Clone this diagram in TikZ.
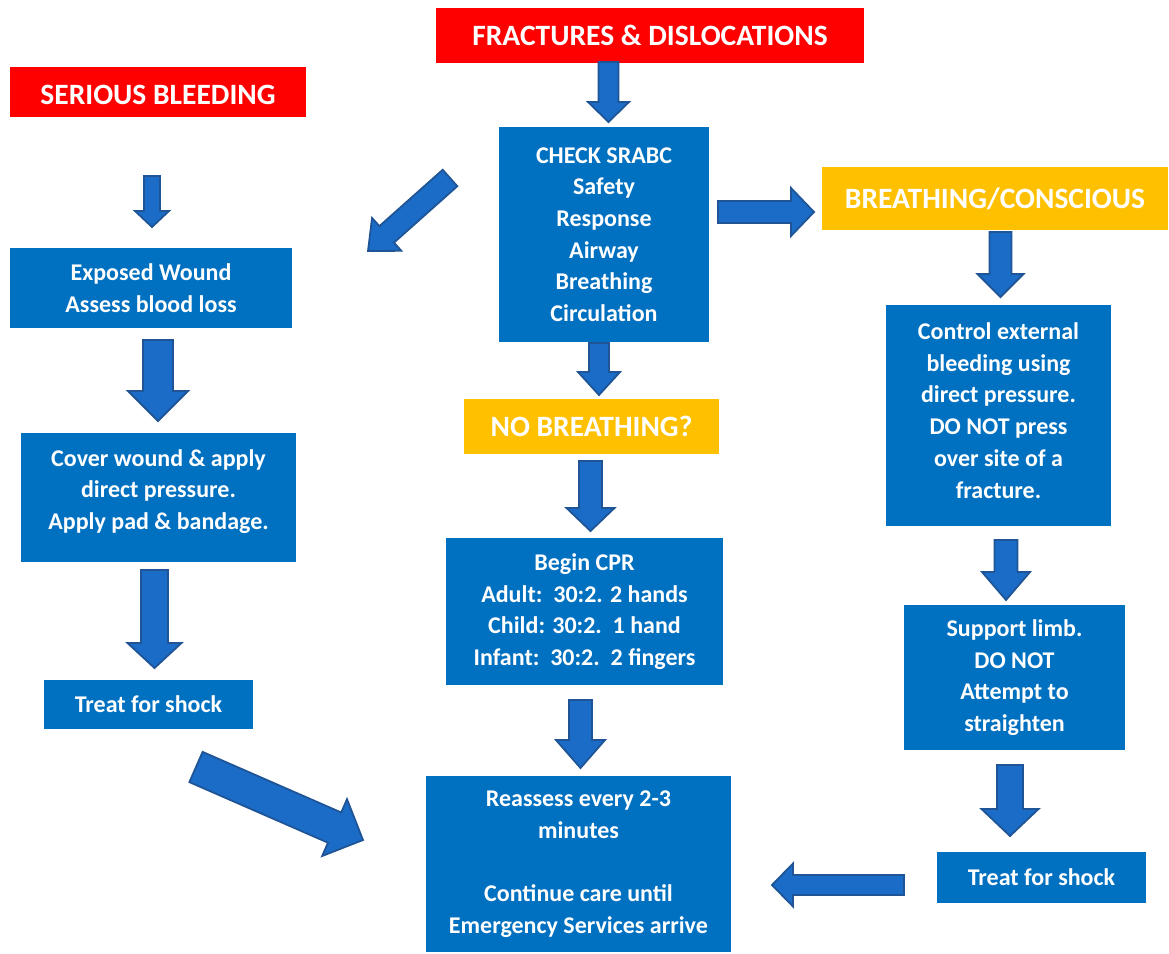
\documentclass[tikz,border=0pt]{standalone}
\usepackage{fontspec}
\setmainfont{Carlito}
\usetikzlibrary{calc}
\definecolor{boxblue}{HTML}{0070C0}
\definecolor{arrfill}{HTML}{1A6CC6}
\definecolor{arrline}{HTML}{1F5597}
\definecolor{hred}{HTML}{FF0000}
\definecolor{hyel}{HTML}{FFC000}
\tikzset{
  base/.style={rectangle, inner sep=0pt, text=white, align=center,
    font=\fontsize{24}{31.7}\selectfont\bfseries},
  bluebox/.style={base, fill=boxblue},
  redbox/.style={base, fill=hred, font=\fontsize{29.5}{34}\selectfont\bfseries},
  yelbox/.style={base, fill=hyel, font=\fontsize{29.5}{34}\selectfont\bfseries},
  blockarrow/.style={fill=arrfill, draw=arrline, line width=1.8pt, line join=miter},
}
% tail, tip, shaft half width, head half width, head length
\newcommand\blockarr[5]{%
  \coordinate (ba-s) at ($(#2)!#5!(#1)$);
  \draw[blockarrow] ($(#1)!#3!90:(#2)$) -- ($(ba-s)!#3!90:(#2)$) -- ($(ba-s)!#4!90:(#2)$)
    -- (#2) -- ($(ba-s)!#4!-90:(#2)$) -- ($(ba-s)!#3!-90:(#2)$) -- ($(#1)!#3!-90:(#2)$) -- cycle;
}
\begin{document}
\begin{tikzpicture}[x=1pt,y=-1pt]
\useasboundingbox (0,0) rectangle (1169,953);
\fill[white] (0,0) rectangle (1169,953);

% boxes
\node[redbox, minimum width=428pt, minimum height=55pt] (frac) at (650,35.5) {FRACTURES \& DISLOCATIONS};
\node[redbox, minimum width=296pt, minimum height=50pt] (bleed) at (158,92) {};
\node[base, font=\fontsize{29.5}{34}\selectfont\bfseries] at (158,95) {SERIOUS BLEEDING};
\node[bluebox, minimum width=210pt, minimum height=215pt] (check) at (604,234.5) {CHECK SRABC\\Safety\\Response\\Airway\\Breathing\\Circulation};
\node[yelbox, minimum width=346pt, minimum height=63pt] (breath) at (995,198.5) {BREATHING/CONSCIOUS};
\node[bluebox, minimum width=282pt, minimum height=80pt] (exposed) at (151,288) {Exposed Wound\\Assess blood loss};
\node[yelbox, minimum width=255pt, minimum height=55pt] (nobreath) at (591.5,426.5) {NO BREATHING?};
\node[bluebox, minimum width=275pt, minimum height=129pt] (cover) at (158.5,497.5) {};
\node[base] at (158.5,491.5) {Cover wound \& apply\\direct pressure.\\Apply pad \& bandage.};
\node[bluebox, minimum width=225pt, minimum height=221pt] (control) at (998.5,415.5) {};
\node[base] at (998.5,410.5) {Control external\\bleeding using\\direct pressure.\\DO NOT press\\over site of a\\fracture.};
\node[bluebox, minimum width=277pt, minimum height=147pt] (cpr) at (584.5,611.5) {Begin CPR\\Adult:\ \ 30:2. 2 hands\\Child: 30:2.\ \ 1 hand\\Infant:\ \ 30:2.\ \ 2 fingers};
\node[bluebox, minimum width=209pt, minimum height=49pt] (treatl) at (148.5,704.5) {Treat for shock};
\node[bluebox, minimum width=221pt, minimum height=145pt] (support) at (1014.5,677.5) {Support limb.\\DO NOT\\Attempt to\\straighten};
\node[bluebox, minimum width=305pt, minimum height=176pt] (reassess) at (578.5,864) {Reassess every 2-3\\minutes\\~\\Continue care until\\Emergency Services arrive};
\node[bluebox, minimum width=209pt, minimum height=51pt] (treatr) at (1041.5,877.5) {Treat for shock};

% arrow end points
\coordinate (a1t) at (608.5,62);  \coordinate (a1h) at (608.5,122);
\coordinate (a2t) at (152,176);   \coordinate (a2h) at (152,227);
\coordinate (a3t) at (450,178);   \coordinate (a3h) at (368,251);
\coordinate (a4t) at (718,212);   \coordinate (a4h) at (814,212);
\coordinate (a5t) at (1000.5,232);\coordinate (a5h) at (1000.5,297);
\coordinate (a6t) at (599,343);   \coordinate (a6h) at (599,395);
\coordinate (a7t) at (158,340);   \coordinate (a7h) at (158,421);
\coordinate (a8t) at (590.5,461); \coordinate (a8h) at (590.5,531);
\coordinate (a9t) at (154.5,570); \coordinate (a9h) at (154.5,668);
\coordinate (a10t) at (1006,540); \coordinate (a10h) at (1006,600);
\coordinate (a11t) at (580.5,700);\coordinate (a11h) at (580.5,768);
\coordinate (a12t) at (196,767);  \coordinate (a12h) at (363,840);
\coordinate (a13t) at (1010,765); \coordinate (a13h) at (1010,836);
\coordinate (a14t) at (904,885);  \coordinate (a14h) at (772,885);

\blockarr{a1t}{a1h}{10pt}{20.5pt}{20pt}
\blockarr{a2t}{a2h}{8pt}{17pt}{16pt}
\blockarr{a3t}{a3h}{11pt}{22pt}{25pt}
\blockarr{a4t}{a4h}{11pt}{24pt}{23pt}
\blockarr{a5t}{a5h}{11pt}{23pt}{23pt}
\blockarr{a6t}{a6h}{10pt}{21pt}{23pt}
\blockarr{a7t}{a7h}{15pt}{30pt}{30pt}
\blockarr{a8t}{a8h}{11.5pt}{24pt}{23pt}
\blockarr{a9t}{a9h}{13.5pt}{27pt}{25pt}
\blockarr{a10t}{a10h}{11.5pt}{24pt}{28pt}
\blockarr{a11t}{a11h}{11.5pt}{24.5pt}{28pt}
\blockarr{a12t}{a12h}{16.5pt}{31pt}{31pt}
\blockarr{a13t}{a13h}{13pt}{28.5pt}{27pt}
\blockarr{a14t}{a14h}{10pt}{21.5pt}{21pt}
\end{tikzpicture}
\end{document}
